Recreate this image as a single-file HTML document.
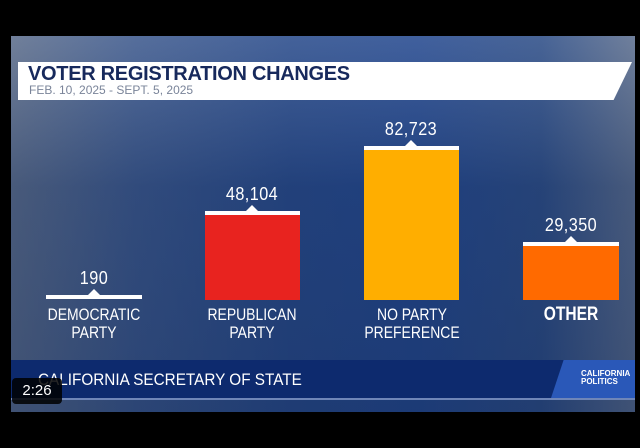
<!DOCTYPE html>
<html><head><style>
body{margin:0;width:640px;height:448px;background:#000;overflow:hidden;font-family:"Liberation Sans",sans-serif;}
#f{position:absolute;left:11px;top:36px;width:624px;height:376px;overflow:hidden;
background:linear-gradient(90deg,#5d6e8c 0%,#3e5a8e 20%,#2a4c8c 45%,#264a90 65%,#2f4f88 85%,#5c6e8e 100%);}
.ov{position:absolute;left:0;top:0;right:0;bottom:0;background:linear-gradient(180deg,rgba(255,255,255,0.12) 0%,rgba(10,30,70,0.25) 40%,rgba(10,30,70,0.35) 100%);}
.a{position:absolute}
.v{position:absolute;color:#fff;font-size:18px;text-align:center;width:110px;letter-spacing:0.5px;transform:scaleX(0.9)}
.c{position:absolute;color:#fff;font-size:17px;text-align:center;width:130px;line-height:18px;transform:scaleX(0.82)}
.tri{position:absolute;width:0;height:0;border-left:6px solid transparent;border-right:6px solid transparent;border-bottom:6px solid #fff}
</style></head><body>
<div id="f"><div class="ov"></div>
<div class="a" style="left:7px;top:26px;width:614px;height:38px;background:#fff;clip-path:polygon(0 0,100% 0,97% 100%,0 100%)"></div>
<div class="a" style="left:17px;top:27px;font-size:20px;font-weight:bold;color:#17295c;letter-spacing:-0.3px">VOTER REGISTRATION CHANGES</div>
<div class="a" style="left:18px;top:47px;font-size:12px;color:#7a8499">FEB. 10, 2025 - SEPT. 5, 2025</div>

<div class="a" style="left:35px;top:259px;width:96px;height:4px;background:#fff"></div>
<div class="tri" style="left:77px;top:253px"></div>
<div class="v" style="left:28px;top:232px">190</div>

<div class="a" style="left:194px;top:175px;width:95px;height:85px;background:#e8231f;border-top:4px solid #fff"></div>
<div class="tri" style="left:235px;top:169px"></div>
<div class="v" style="left:186px;top:148px">48,104</div>

<div class="a" style="left:353px;top:110px;width:95px;height:150px;background:#ffae00;border-top:4px solid #fff"></div>
<div class="tri" style="left:394px;top:104px"></div>
<div class="v" style="left:345px;top:83px">82,723</div>

<div class="a" style="left:512px;top:206px;width:96px;height:54px;background:#ff6a00;border-top:4px solid #fff"></div>
<div class="tri" style="left:554px;top:200px"></div>
<div class="v" style="left:505px;top:179px">29,350</div>

<div class="c" style="left:18px;top:270px">DEMOCRATIC<br>PARTY</div>
<div class="c" style="left:176px;top:270px">REPUBLICAN<br>PARTY</div>
<div class="c" style="left:336px;top:270px">NO PARTY<br>PREFERENCE</div>
<div class="c" style="left:495px;top:270px;font-size:19px;font-weight:bold">OTHER</div>

<div class="a" style="left:0;top:324px;width:624px;height:38px;background:#0d2a6e;border-bottom:2px solid #6f86b8"></div>
<div class="a" style="left:540px;top:324px;width:84px;height:38px;background:#2a58b8;clip-path:polygon(15% 0,100% 0,100% 100%,0 100%)"></div>
<div class="a" style="left:570px;top:334px;font-size:8px;font-weight:bold;color:#fff;line-height:8px">CALIFORNIA<br>POLITICS</div>
<div class="a" style="left:27px;top:334px;font-size:17px;color:#fff;transform:scaleX(0.9);transform-origin:left">CALIFORNIA SECRETARY OF STATE</div>
</div>
<div class="a" style="left:12px;top:378px;width:50px;height:26px;background:rgba(0,0,0,0.85);border-radius:4px;color:#fff;font-size:15px;text-align:center;line-height:26px">2:26</div>
</body></html>
